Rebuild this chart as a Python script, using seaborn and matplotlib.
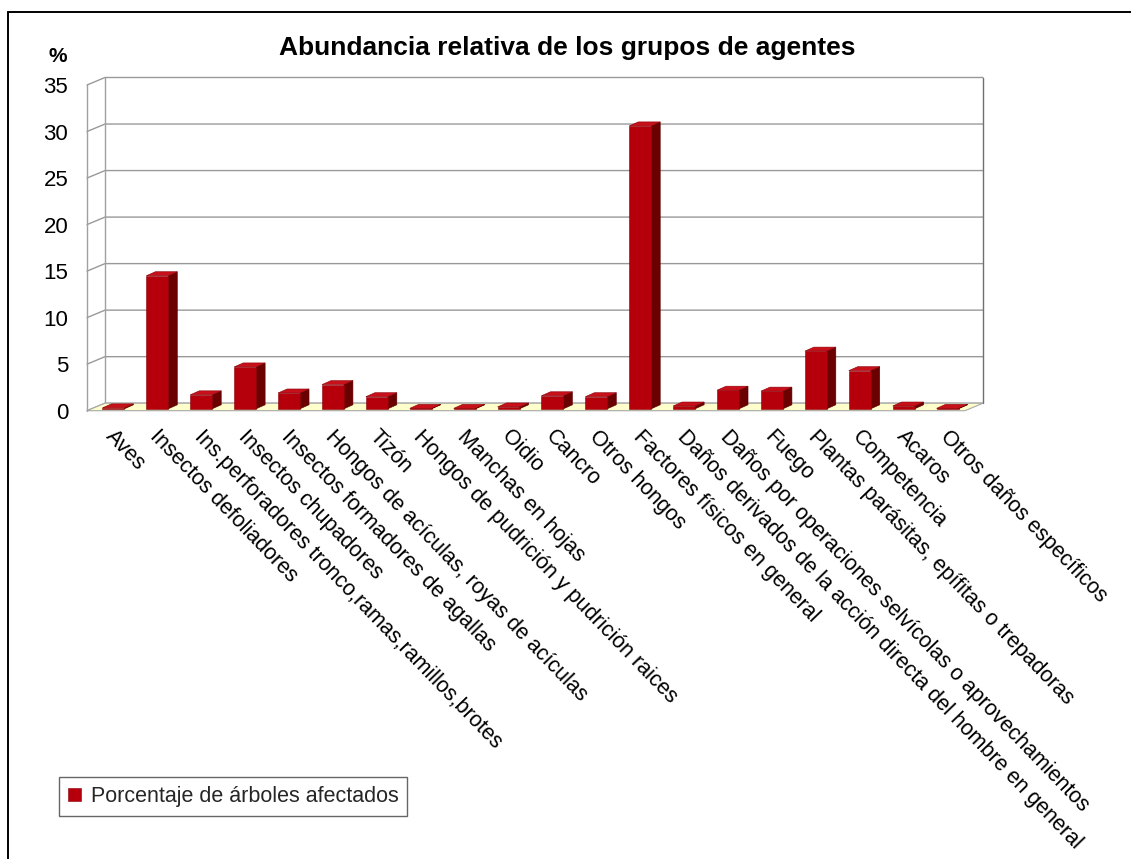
import matplotlib
matplotlib.use("Agg")
import matplotlib.pyplot as plt
import matplotlib.transforms as mtransforms
from matplotlib.patches import Polygon
from matplotlib.lines import Line2D
import seaborn as sns
import pandas as pd

categories = [
    "Aves",
    "Insectos defoliadores",
    "Ins.perforadores tronco,ramas,ramillos,brotes",
    "Insectos chupadores",
    "Insectos formadores de agallas",
    "Hongos de acículas, royas de acículas",
    "Tizón",
    "Hongos de pudrición y pudrición raices",
    "Manchas en hojas",
    "Oidio",
    "Cancro",
    "Otros hongos",
    "Factores físicos en general",
    "Daños derivados de la acción directa del hombre en general",
    "Daños por operaciones selvícolas o aprovechamientos",
    "Fuego",
    "Plantas parásitas, epífitas o trepadoras",
    "Competencia",
    "Acaros",
    "Otros daños específicos",
]
values = [0.1, 14.3, 1.5, 4.5, 1.7, 2.6, 1.3, 0.05, 0.05, 0.2,
          1.4, 1.3, 30.4, 0.3, 2.0, 1.9, 6.2, 4.1, 0.3, 0.05]
series_name = "Porcentaje de árboles afectados"
y_ticks = [0, 5, 10, 15, 20, 25, 30, 35]
title = "Abundancia relativa de los grupos de agentes"

sns.set_theme(style="white")
plt.rcParams["font.family"] = ["Liberation Sans", "DejaVu Sans"]

W, H = 1131, 859
fig = plt.figure(figsize=(W / 100, H / 100), dpi=100)
fig.patch.set_facecolor("white")

# front plane of the 3D box (pixels)
fx0, fx1 = 87, 965
fy0, fy1 = 410.7, 85
ax = fig.add_axes([fx0 / W, 1 - fy0 / H, (fx1 - fx0) / W, (fy0 - fy1) / H])

front_col = "#B5000C"
side_col = "#6A0000"
top_col = "#C8101A"

df = pd.DataFrame({"cat": categories, "val": values})
sns.barplot(data=df, x="cat", y="val", color=front_col, saturation=1,
            width=0.5, ax=ax, label=series_name, errorbar=None, zorder=3)
bars = list(ax.patches)

ax.set_xlim(-0.5, len(categories) - 0.5)
ax.set_ylim(0, 35)
ax.set_yticks(y_ticks)
ax.set_xlabel("")
ax.set_ylabel("")
for s in ax.spines.values():
    s.set_visible(False)
ax.patch.set_visible(False)
ax.grid(False)
ax.tick_params(axis="y", length=0, pad=13.5, labelsize=16, colors="black")
ax.tick_params(axis="x", length=0, pad=11, labelsize=15.5, colors="black")
ax.set_xticks(range(len(categories)))
ax.set_xticklabels(categories, rotation=-46, ha="left", va="top",
                   rotation_mode="anchor")
for lbl in ax.get_xticklabels():
    lbl.set_transform(lbl.get_transform() +
                      mtransforms.ScaledTranslation(0.08, 0, fig.dpi_scale_trans))

ident = mtransforms.IdentityTransform()
DX, DY = 18.0, 7.5          # floor depth in pixels
BF = (4.5, 1.9)             # bar front offset
BB = (13.5, 5.9)            # bar back offset


def px(x, y, off=(0, 0)):
    p = ax.transData.transform((x, y))
    return (p[0] + off[0], p[1] + off[1])


xl, xr = ax.get_xlim()
grid_col = "#999999"

# back wall
back = Polygon([px(xl, 0, (DX, DY)), px(xr, 0, (DX, DY)),
                px(xr, 35, (DX, DY)), px(xl, 35, (DX, DY))],
               closed=True, facecolor="white", edgecolor="none",
               transform=ident, zorder=0.5, clip_on=False)
ax.add_artist(back)

# gridlines: diagonal on side wall + horizontal on back wall
for yv in y_ticks:
    pts = [px(xl, yv), px(xl, yv, (DX, DY)), px(xr, yv, (DX, DY))]
    ax.add_artist(Line2D([p[0] for p in pts], [p[1] for p in pts],
                         color=grid_col, lw=1.0, transform=ident,
                         zorder=0.6, clip_on=False))

# wall verticals
for (a, b, c) in [(px(xl, 0), px(xl, 35), "#A0A0A0"),
                  (px(xl, 0, (DX, DY)), px(xl, 35, (DX, DY)), "#A0A0A0"),
                  (px(xr, 0, (DX, DY)), px(xr, 35, (DX, DY)), "#707070")]:
    ax.add_artist(Line2D([a[0], b[0]], [a[1], b[1]], color=c, lw=1.0,
                         transform=ident, zorder=0.65, clip_on=False))

# floor
floor = Polygon([px(xl, 0), px(xr, 0), px(xr, 0, (DX, DY)), px(xl, 0, (DX, DY))],
                closed=True, facecolor="#FFFFCC", edgecolor="#A8A8A8", lw=0.8,
                transform=ident, zorder=0.7, clip_on=False)
ax.add_artist(floor)

# 3D bars from seaborn's patches
shift = mtransforms.ScaledTranslation(BF[0] / 100, BF[1] / 100, fig.dpi_scale_trans)
for p in bars:
    x0 = p.get_x()
    x1 = x0 + p.get_width()
    h = p.get_height()
    p.set_transform(ax.transData + shift)
    p.set_edgecolor("#8A0008")
    p.set_linewidth(0.4)
    p.set_zorder(3)
    side = Polygon([px(x1, 0, BF), px(x1, h, BF), px(x1, h, BB), px(x1, 0, BB)],
                   closed=True, facecolor=side_col, edgecolor="#5A0000", lw=0.4,
                   transform=ident, zorder=2.8, clip_on=False)
    top = Polygon([px(x0, h, BF), px(x1, h, BF), px(x1, h, BB), px(x0, h, BB)],
                  closed=True, facecolor=top_col, edgecolor="#8A0008", lw=0.4,
                  transform=ident, zorder=2.9, clip_on=False)
    ax.add_artist(side)
    ax.add_artist(top)

# legend
leg = ax.legend(handles=[bars[0]], labels=[series_name],
                loc="upper left", bbox_to_anchor=(59 / W, 1 - 777 / H),
                bbox_transform=fig.transFigure, borderaxespad=0,
                frameon=True, fancybox=False, fontsize=15.5,
                handlelength=0.6, handleheight=0.6, handletextpad=0.45,
                borderpad=0.42)
leg.get_frame().set_edgecolor("#404040")
leg.get_frame().set_linewidth(1.0)
leg.get_frame().set_facecolor("white")

# title and unit
fig.text(567.5 / W, 1 - 48 / H, title, ha="center", va="center",
         fontsize=19, fontweight="bold", color="black")
fig.text(57.5 / W, 1 - 57 / H, "%", ha="center", va="center",
         fontsize=15, fontweight="bold", color="black")

# outer border (extends beyond right and bottom edges)
fig.add_artist(Line2D([8.3 / W, 8.3 / W], [1 - 12.3 / H, -0.01],
                      color="black", lw=1.4, transform=fig.transFigure))
fig.add_artist(Line2D([8.3 / W, 1.01], [1 - 12.3 / H, 1 - 12.3 / H],
                      color="black", lw=1.4, transform=fig.transFigure))

fig.savefig("out.png", dpi=100, facecolor="white")
